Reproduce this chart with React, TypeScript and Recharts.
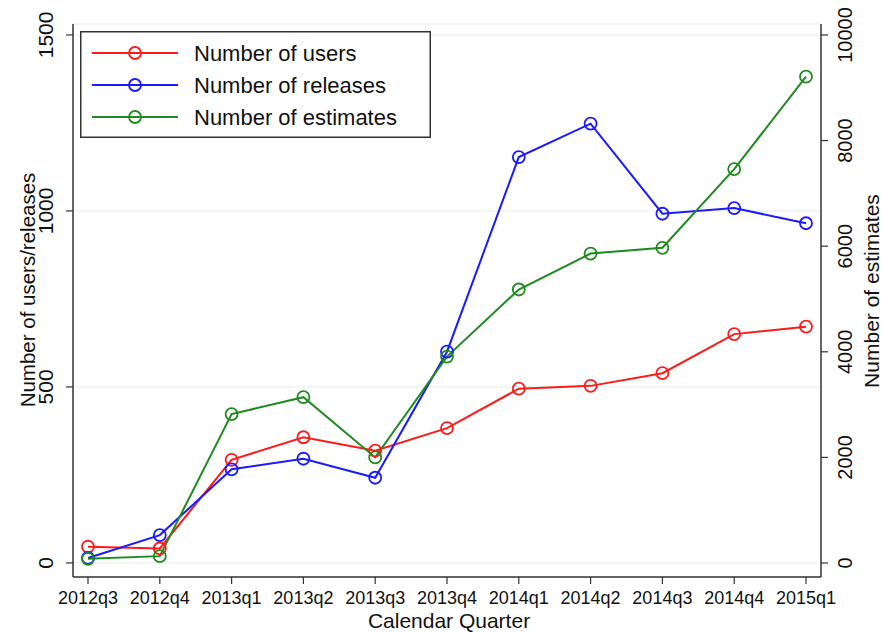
import React from "react";
import {
  CartesianGrid,
  Legend,
  Line,
  LineChart,
  XAxis,
  YAxis,
} from "recharts";

const quarters = [
  "2012q3", "2012q4", "2013q1", "2013q2", "2013q3", "2013q4",
  "2014q1", "2014q2", "2014q3", "2014q4", "2015q1",
];
const users = [46, 41, 293, 357, 319, 383, 495, 503, 539, 650, 671];
const releases = [14, 79, 266, 296, 242, 600, 1153, 1248, 992, 1008, 965];
const estimates = [80, 130, 2820, 3140, 2000, 3910, 5180, 5860, 5970, 7460, 9210];

const leftTicks = [0, 500, 1000, 1500];
const rightTicks = [0, 2000, 4000, 6000, 8000, 10000];

const seriesInfo = [
  { key: "users", name: "Number of users", color: "#ff1a1a", axis: "left" },
  { key: "releases", name: "Number of releases", color: "#1a1aff", axis: "left" },
  { key: "estimates", name: "Number of estimates", color: "#1f8a1f", axis: "right" },
];

const data = quarters.map((q, i) => ({
  q,
  users: users[i],
  releases: releases[i],
  estimates: estimates[i],
}));

const FONT = "'Liberation Sans', Arial, Helvetica, sans-serif";
const AXIS = "#333333";

const LeftTick = (p: any) => (
  <text
    x={p.x - 20}
    y={p.y}
    transform={`rotate(-90 ${p.x - 20} ${p.y})`}
    textAnchor="middle"
    dominantBaseline="central"
    fontSize={21}
    fontFamily={FONT}
    fill="#111"
  >
    {p.payload.value}
  </text>
);

const RightTick = (p: any) => (
  <text
    x={p.x + 17}
    y={p.y}
    transform={`rotate(-90 ${p.x + 17} ${p.y})`}
    textAnchor="middle"
    dominantBaseline="central"
    fontSize={20}
    fontFamily={FONT}
    fill="#111"
  >
    {p.payload.value}
  </text>
);

const BottomTick = (p: any) => (
  <text
    x={p.x}
    y={p.y + 20}
    textAnchor="middle"
    fontSize={18}
    fontFamily={FONT}
    fill="#111"
  >
    {p.payload.value}
  </text>
);

const LegendBox = () => (
  <svg width={351} height={107} style={{ display: "block" }}>
    <rect x={0.75} y={0.75} width={349.5} height={105.5} fill="#fff" stroke={AXIS} strokeWidth={1.5} />
    {seriesInfo.map((s, i) => {
      const cy = 22 + i * 32;
      return (
        <g key={s.key}>
          <line x1={12} x2={98} y1={cy} y2={cy} stroke={s.color} strokeWidth={2} />
          <circle cx={55} cy={cy} r={6} fill="none" stroke={s.color} strokeWidth={1.8} />
          <text x={114} y={cy} dominantBaseline="central" fontSize={22} fontFamily={FONT} fill="#111">
            {s.name}
          </text>
        </g>
      );
    })}
  </svg>
);

export default function App() {
  return (
    <div style={{ position: "absolute", left: 0, top: 0, width: 882, height: 632, background: "#fff", fontFamily: FONT }}>
      <LineChart width={882} height={632} data={data} margin={{ top: 24, right: 0, bottom: 0, left: 0 }}>
        <CartesianGrid yAxisId="left" vertical={false} stroke="#e6eeee" strokeWidth={1} />
        <XAxis
          dataKey="q"
          height={55}
          padding={{ left: 15, right: 15 }}
          interval={0}
          tickSize={7}
          tickMargin={0}
          axisLine={{ stroke: AXIS, strokeWidth: 1.5 }}
          tickLine={{ stroke: AXIS, strokeWidth: 1.2 }}
          tick={BottomTick}
        />
        <YAxis
          yAxisId="left"
          width={73}
          domain={[-40, 1531]}
          ticks={leftTicks}
          allowDataOverflow
          tickSize={7}
          tickMargin={0}
          axisLine={{ stroke: AXIS, strokeWidth: 1.5 }}
          tickLine={{ stroke: AXIS, strokeWidth: 1.2 }}
          tick={LeftTick}
        />
        <YAxis
          yAxisId="right"
          orientation="right"
          width={61}
          domain={[-265, 10208]}
          ticks={rightTicks}
          allowDataOverflow
          tickSize={7}
          tickMargin={0}
          axisLine={{ stroke: AXIS, strokeWidth: 1.5 }}
          tickLine={{ stroke: AXIS, strokeWidth: 1.2 }}
          tick={RightTick}
        />
        <Legend
          layout="vertical"
          align="center"
          verticalAlign="middle"
          content={<LegendBox />}
          wrapperStyle={{ position: "absolute", left: 80, top: 31, width: 351, height: 107 }}
        />
        {seriesInfo.map((s) => (
          <Line
            key={s.key}
            yAxisId={s.axis}
            dataKey={s.key}
            name={s.name}
            stroke={s.color}
            strokeWidth={2}
            type="linear"
            dot={{ r: 6, fill: "none", stroke: s.color, strokeWidth: 1.8 }}
            isAnimationActive={false}
          />
        ))}
      </LineChart>
      <svg width={882} height={632} style={{ position: "absolute", left: 0, top: 0, pointerEvents: "none" }}>
        <text x={35} y={290} transform="rotate(-90 35 290)" textAnchor="middle" fontSize={20.5} fontFamily={FONT} fill="#111">
          Number of users/releases
        </text>
        <text x={879} y={291} transform="rotate(-90 879 291)" textAnchor="middle" fontSize={21} fontFamily={FONT} fill="#111">
          Number of estimates
        </text>
        <text x={449} y={627.5} textAnchor="middle" fontSize={21} fontFamily={FONT} fill="#111">
          Calendar Quarter
        </text>
      </svg>
    </div>
  );
}
